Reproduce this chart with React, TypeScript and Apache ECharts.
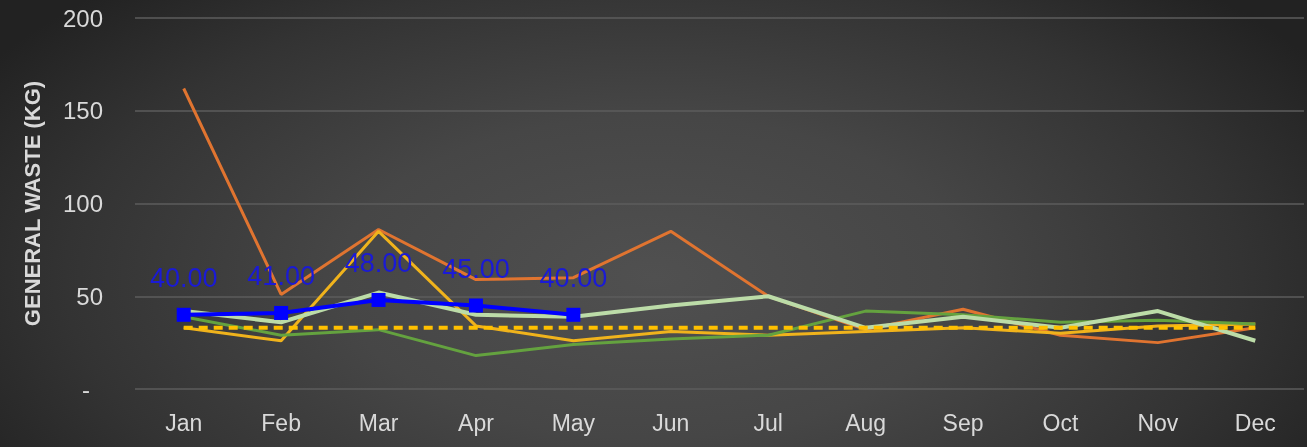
import React, { useEffect, useRef } from "react";
import * as echarts from "echarts";

const months = ["Jan", "Feb", "Mar", "Apr", "May", "Jun", "Jul", "Aug", "Sep", "Oct", "Nov", "Dec"];
const orangeSeries = [162, 51, 86, 59, 60, 85, 50, 32, 43, 29, 25, 33];
const yellowSeries = [33, 26, 85, 34, 26, 31, 29, 31, 33, 30, 34, 35];
const darkGreenSeries = [39, 29, 32, 18, 24, 27, 29, 42, 40, 36, 37, 35];
const lightGreenSeries = [42, 36, 52, 40, 39, 45, 50, 33, 39, 33, 42, 26];
const blueSeries = [40, 41, 48, 45, 40];
const targetSeries = [33, 33, 33, 33, 33, 33, 33, 33, 33, 33, 33, 33];
const yTicks = [0, 50, 100, 150, 200];
const yTitle = "GENERAL WASTE (KG)";

const FONT = "'Liberation Sans', Arial, sans-serif";

export default function App() {
  const ref = useRef<HTMLDivElement>(null);
  useEffect(() => {
    if (!ref.current) return;
    const chart = echarts.init(ref.current, undefined, { renderer: "svg" });
    const line = (name: string, data: number[], color: string, width: number, z: number) => ({
      name,
      type: "line",
      data,
      showSymbol: false,
      symbol: "none",
      lineStyle: { color, width },
      itemStyle: { color },
      z,
    });
    chart.setOption({
      animation: false,
      backgroundColor: "transparent",
      grid: { left: 135, right: 3, top: 18, bottom: 58 },
      xAxis: {
        type: "category",
        data: months,
        boundaryGap: true,
        axisLine: { show: false },
        axisTick: { show: false },
        axisLabel: { color: "#d9d9d9", fontSize: 23, fontFamily: FONT, margin: 22 },
      },
      yAxis: {
        type: "value",
        min: yTicks[0],
        max: yTicks[yTicks.length - 1],
        interval: 50,
        name: yTitle,
        nameLocation: "middle",
        nameGap: 92,
        nameRotate: 90,
        nameTextStyle: { color: "#d9d9d9", fontSize: 22, fontWeight: "bold", fontFamily: FONT },
        axisLine: { show: false },
        axisTick: { show: false },
        splitLine: { lineStyle: { color: "#5c5c5c", width: 1.5 } },
        axisLabel: {
          color: "#d9d9d9",
          fontSize: 24,
          fontFamily: FONT,
          margin: 32,
          formatter: (v: number) => (v === 0 ? "{d|-}" : String(v)),
          rich: { d: { color: "#d9d9d9", fontSize: 24, fontFamily: FONT, padding: [0, 13, 0, 0] } },
        },
      },
      series: [
        line("Orange", orangeSeries, "#e07430", 3, 2),
        line("Yellow", yellowSeries, "#f0b31c", 3, 3),
        line("Green", darkGreenSeries, "#64a23f", 3, 4),
        line("Light green", lightGreenSeries, "#bcdca8", 4, 5),
        {
          name: "Target",
          type: "line",
          data: targetSeries,
          showSymbol: false,
          symbol: "none",
          lineStyle: { color: "#ffc000", width: 4, type: [9, 6] },
          z: 6,
        },
        {
          name: "Current",
          type: "line",
          data: blueSeries,
          symbol: "rect",
          symbolSize: 14,
          lineStyle: { color: "#0000ff", width: 4 },
          itemStyle: { color: "#0000ff" },
          label: {
            show: true,
            position: "top",
            distance: 16,
            color: "#1a1ad6",
            fontSize: 27,
            fontFamily: FONT,
            formatter: (p: any) => Number(p.value).toFixed(2),
          },
          z: 10,
        },
      ],
    });
    return () => chart.dispose();
  }, []);
  return (
    <div
      style={{
        position: "fixed",
        left: 0,
        top: 0,
        width: 1307,
        height: 447,
        background:
          "radial-gradient(ellipse 60% 90% at 50% 62%, #505050 0%, #464646 40%, #333333 75%, #222222 100%)",
      }}
    >
      <div ref={ref} style={{ width: 1307, height: 447 }} />
    </div>
  );
}
